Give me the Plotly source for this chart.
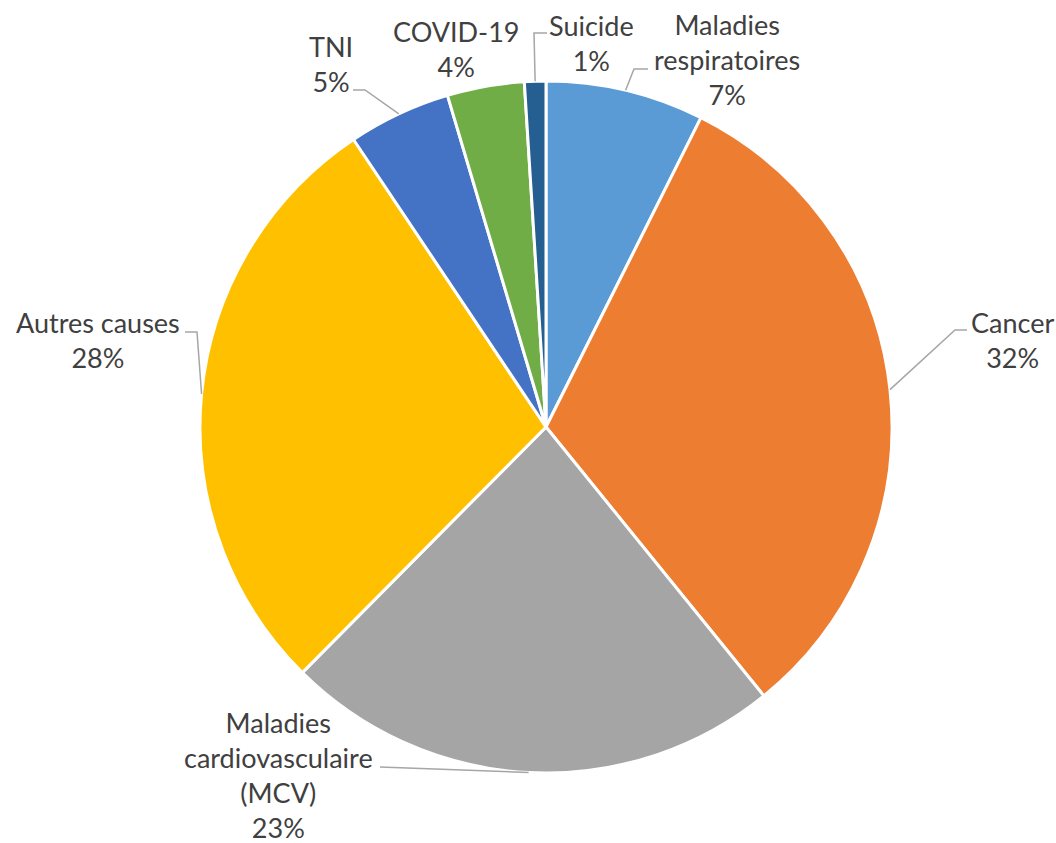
import math
import plotly.graph_objects as go

# ---- data ----
labels = ["Maladies respiratoires", "Cancer", "Maladies cardiovasculaire (MCV)",
          "Autres causes", "TNI", "COVID-19", "Suicide"]
label_lines = [["Maladies", "respiratoires"], ["Cancer"],
               ["Maladies", "cardiovasculaire", "(MCV)"], ["Autres causes"],
               ["TNI"], ["COVID-19"], ["Suicide"]]
values = [7.4, 31.8, 23.3, 28.2, 4.8, 3.6, 1.0]
colors = ["#5B9BD5", "#ED7D31", "#A5A5A5", "#FFC000", "#4472C4", "#70AD47", "#255E91"]

W, H = 1056, 843
CX, CY, R = 546, 427, 346

# label placement (pixels): text centre, and leader-line points from label side
label_pos = [(727, 60), (1012, 340), (278, 775), (98, 340), (331, 64), (456, 49), (591, 43)]
leader_pts = [[(648, 69), (634, 69)], [(967, 330), (955, 330)], [(380, 767)],
              [(185, 332), (197, 332)], [(353, 90), (365, 90)], [], [(547, 33), (534, 33)]]

def px(x):
    return x / W

def py(y):
    return 1 - y / H

fig = go.Figure(go.Pie(
    labels=labels, values=values, sort=False, direction="clockwise", rotation=0,
    marker=dict(colors=colors, line=dict(color="white", width=3)),
    textinfo="none", hoverinfo="label+percent", showlegend=False,
    domain=dict(x=[(CX - R) / W, (CX + R) / W], y=[(H - CY - R) / H, (H - CY + R) / H]),
))

total = sum(values)
cum = 0.0
annotations = []
shapes = []
for i, v in enumerate(values):
    mid = (cum + v / 2) / total * 2 * math.pi
    cum += v
    pct = round(v / total * 100)
    text = "<br>".join(label_lines[i] + [f"{pct}%"])
    lx, ly = label_pos[i]
    annotations.append(dict(x=px(lx), y=py(ly), xref="paper", yref="paper",
                            text=text, showarrow=False, xanchor="center", yanchor="middle",
                            borderpad=0,
                            font=dict(family="Lato", size=27, color="#404040")))
    pts = leader_pts[i]
    if pts:
        ex, ey = CX + R * math.sin(mid), CY - R * math.cos(mid)
        allp = pts + [(ex, ey)]
        path = "M " + " L ".join(f"{px(x)},{py(y)}" for x, y in allp)
        shapes.append(dict(type="path", path=path, xref="paper", yref="paper",
                           line=dict(color="#A6A6A6", width=1.5)))

fig.update_layout(width=W, height=H, margin=dict(l=0, r=0, t=0, b=0),
                  paper_bgcolor="white", plot_bgcolor="white",
                  annotations=annotations, shapes=shapes)
fig.write_html("out.html", config={"displayModeBar": False},
               post_script="document.body.style.margin='0';document.body.style.overflow='hidden';")
